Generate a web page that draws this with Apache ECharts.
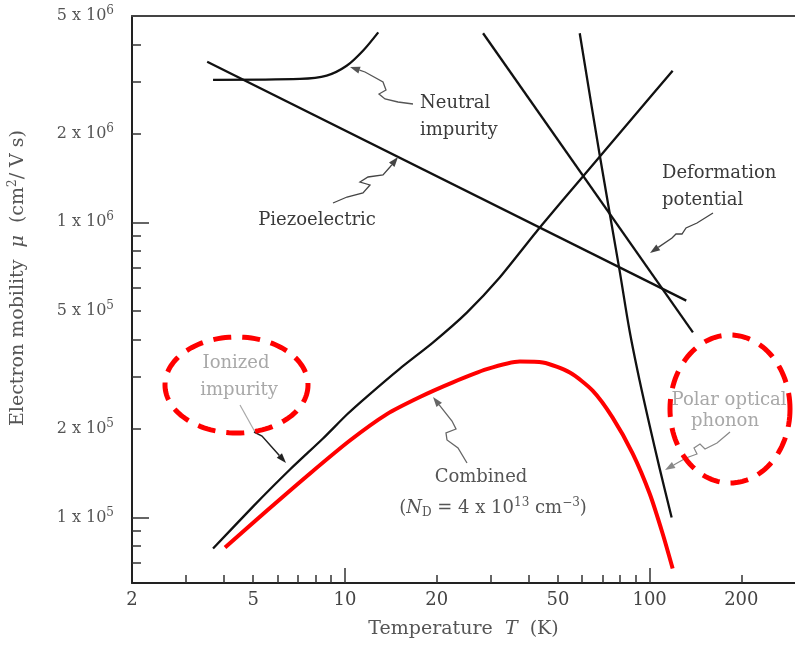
<!DOCTYPE html>
<html><head><meta charset="utf-8">
<script src="https://cdn.jsdelivr.net/npm/echarts@6/dist/echarts.min.js"></script>
<style>html,body{margin:0;padding:0;background:#fff}#c{width:795px;height:646px}</style>
</head><body><div id="c"></div>
<script>
// ---- data (T in K, mobility in cm^2/V s) ----
const neutralT = [3.69, 7.12, 8.71, 10.13, 11.48, 12.86];
const neutralMu = [3.04e6, 3.06e6, 3.14e6, 3.39e6, 3.82e6, 4.40e6];
const piezoT = [3.53, 131.9];
const piezoMu = [3.50e6, 5.43e5];
const deformT = [28.4, 138.7];
const deformMu = [4.37e6, 4.24e5];
const polarT = [58.96, 68.5, 79.7, 85.9, 92.7, 100, 107.8, 118.1];
const polarMu = [4.37e6, 1.70e6, 6.86e5, 4.30e5, 2.91e5, 2.05e5, 1.47e5, 1.00e5];
const ionizedT = [3.69, 4.99, 6.60, 8.47, 10.15, 11.81, 15.15, 19.43, 25.12, 32.2, 43.6, 60.3, 88.0, 119.0];
const ionizedMu = [7.85e4, 1.089e5, 1.454e5, 1.852e5, 2.233e5, 2.569e5, 3.196e5, 3.914e5, 4.945e5, 6.50e5, 9.6e5, 1.428e6, 2.26e6, 3.264e6];
const combinedT = [4.04, 5.55, 7.68, 10.38, 13.73, 17.62, 22.6, 29.2, 37.5, 44.6, 54.7, 65.0, 75.6, 88.0, 100, 110.3, 119.0];
const combinedMu = [7.91e4, 1.056e5, 1.41e5, 1.823e5, 2.24e5, 2.56e5, 2.87e5, 3.18e5, 3.376e5, 3.35e5, 3.097e5, 2.69e5, 2.18e5, 1.647e5, 1.206e5, 8.83e4, 6.72e4];

// ---- axes ----
const xMin = 2, xMax = 300, yMin = 6e4, yMax = 5e6;
const xTickLabels = [2, 5, 10, 20, 50, 100, 200];
const xMinorTicks = [3, 4, 5, 6, 7, 8, 9, 20, 30, 40, 50, 60, 70, 80, 90, 200];
const xMajorTicks = [10, 100];
const yTickLabels = [1e5, 2e5, 5e5, 1e6, 2e6, 5e6];
const yMinorTicks = [7e4, 8e4, 9e4, 2e5, 3e5, 4e5, 5e5, 6e5, 7e5, 8e5, 9e5, 2e6, 3e6, 4e6];
const yMajorTicks = [1e5, 1e6];

const FONT = '"DejaVu Serif", "Liberation Serif", serif';
const lg = Math.log10;
const zip = (a, b) => a.map((t, i) => [t, b[i]]);

function arrowEls(pts, color, w) {
  const n = pts.length, p = pts[n - 1], q = pts[n - 2];
  const dx = p[0] - q[0], dy = p[1] - q[1], L = Math.hypot(dx, dy);
  const ux = dx / L, uy = dy / L, hl = 10, hw = 3.5;
  const bx = p[0] - ux * hl, by = p[1] - uy * hl;
  return [
    {type: 'polyline', z: 50, shape: {points: pts.slice(0, n - 1).concat([[bx, by]])}, style: {stroke: color, lineWidth: w, fill: null}},
    {type: 'polygon', z: 50, shape: {points: [p, [bx - uy * hw, by + ux * hw], [bx + uy * hw, by - ux * hw]]}, style: {fill: color}}
  ];
}
function ellipse(cx, cy, rx, ry) {
  const pts = [];
  for (let i = 0; i <= 120; i++) { const a = i / 120 * 2 * Math.PI; pts.push([cx + rx * Math.cos(a), cy + ry * Math.sin(a)]); }
  return {type: 'polyline', z: 60, shape: {points: pts}, style: {stroke: '#ff0000', lineWidth: 5, lineDash: [18, 11], fill: null}};
}
function txt(text, x, y, color, align) {
  return {type: 'text', z: 55, x: x, y: y, style: {text: text, fontSize: 18, fontFamily: FONT, fill: color,
    align: align, textAlign: align, verticalAlign: 'middle', textVerticalAlign: 'middle'}};
}

const dark = '#3a3a3a', mid = '#555', light = '#a8a8a8';
let graphics = [
  txt('Neutral', 420, 103, dark, 'left'), txt('impurity', 420, 130, dark, 'left'),
  txt('Piezoelectric', 317, 220, dark, 'center'),
  txt('Deformation', 662, 173, dark, 'left'), txt('potential', 662, 200, dark, 'left'),
  txt('Ionized', 236, 363, light, 'center'), txt('impurity', 239, 390, light, 'center'),
  txt('Polar optical', 729, 400, light, 'center'), txt('phonon', 725, 421, light, 'center'),
  txt('Combined', 481, 477, mid, 'center'),
  {type: 'text', z: 55, x: 493, y: 508, style: {
    text: '{a|(}{i|N}{sb|D}{a| = 4 x 10}{sp|13}{a| cm}{sp|−3}{a|)}',
    fill: mid, align: 'center', textAlign: 'center', verticalAlign: 'middle', textVerticalAlign: 'middle',
    rich: {
      a: {fontSize: 18, fontFamily: FONT, fill: mid},
      i: {fontSize: 18, fontFamily: FONT, fontStyle: 'italic', fill: mid},
      sb: {fontSize: 12, fontFamily: FONT, fill: mid, padding: [10, 0, 0, 0]},
      sp: {fontSize: 12, fontFamily: FONT, fill: mid, padding: [0, 0, 10, 0]}
    }}},
  // y-axis title
  {type: 'text', z: 55, x: 18, y: 278, rotation: Math.PI / 2, style: {
    text: '{a|Electron mobility  }{i|μ}{a|  (cm}{s|2}{a|/ V s)}',
    fill: mid, align: 'center', textAlign: 'center', verticalAlign: 'middle', textVerticalAlign: 'middle',
    rich: {
      a: {fontSize: 19, fontFamily: FONT, fill: mid},
      i: {fontSize: 19, fontFamily: FONT, fontStyle: 'italic', fill: mid},
      s: {fontSize: 12, fontFamily: FONT, fill: mid, padding: [0, 0, 10, 0]}
    }}},
  {type: 'polyline', z: 50, shape: {points: [[240, 405], [255, 432]]}, style: {stroke: light, lineWidth: 1.2, fill: null}},
  ellipse(236.5, 385, 71.5, 48), ellipse(730, 409, 60, 74)
];
graphics = graphics.concat(
  arrowEls([[413,104],[398,102],[385,99],[379,94],[386,90],[383,82],[365,72],[350,67]], '#555', 1.3),
  arrowEls([[333,203],[347,197],[363,193],[370,185],[360,182],[368,177],[383,175],[390,167],[398,157]], '#444', 1.3),
  arrowEls([[713,213],[697,223],[686,228],[682,234],[676,234],[672,238],[650,253]], '#444', 1.3),
  arrowEls([[254,432],[262,436],[286,463]], '#222', 1.5),
  arrowEls([[730,432],[717,443],[705,449],[700,444],[694,448],[697,454],[686,458],[665,470]], '#888', 1.2),
  arrowEls([[467,463],[458,448],[447,440],[446,433],[456,429],[452,421],[433,397]], '#666', 1.3)
);

const chart = echarts.init(document.getElementById('c'));
const tickStyle = {color: '#333', width: 1.5};
const lineS = (name, T, M, opts) => Object.assign({
  name: name, type: 'line', xAxisIndex: 0, yAxisIndex: 0, data: zip(T, M), symbol: 'none',
  lineStyle: {color: '#111', width: 2.3}, z: 10, silent: true
}, opts || {});

chart.setOption({
  animation: false,
  backgroundColor: '#fff',
  grid: {left: 132, right: 0, top: 16, bottom: 63, containLabel: false},
  xAxis: [
    {type: 'log', logBase: 10, min: xMin, max: xMax, position: 'bottom',
     axisLine: {show: true, lineStyle: {color: '#222', width: 2}}, axisTick: {show: false}, axisLabel: {show: false}, splitLine: {show: false},
     name: '{a|Temperature  }{i|T}{a|  (K)}', nameLocation: 'middle', nameGap: 37,
     nameTextStyle: {rich: {a: {fontSize: 19, fontFamily: FONT, color: '#555'}, i: {fontSize: 19, fontFamily: FONT, fontStyle: 'italic', color: '#555'}}}},
    {type: 'value', min: lg(xMin), max: lg(xMax), position: 'bottom', axisLine: {show: false}, splitLine: {show: false},
     axisTick: {show: true, inside: true, length: 8, lineStyle: tickStyle, customValues: xMinorTicks.map(lg)},
     axisLabel: {show: true, margin: 8, fontSize: 18, fontFamily: FONT, color: '#444', customValues: xTickLabels.map(lg),
       formatter: v => String(Math.round(Math.pow(10, v)))}},
    {type: 'value', min: lg(xMin), max: lg(xMax), position: 'bottom', axisLine: {show: false}, splitLine: {show: false},
     axisTick: {show: true, inside: true, length: 15, lineStyle: tickStyle, customValues: xMajorTicks.map(lg)}, axisLabel: {show: false}},
    {type: 'value', min: lg(xMin), max: lg(xMax), position: 'top', axisLine: {show: true, lineStyle: {color: '#444', width: 2}},
     axisTick: {show: false}, axisLabel: {show: false}, splitLine: {show: false}}
  ],
  yAxis: [
    {type: 'log', logBase: 10, min: yMin, max: yMax, position: 'left',
     axisLine: {show: true, lineStyle: {color: '#222', width: 2}}, axisTick: {show: false}, axisLabel: {show: false}, splitLine: {show: false}},
    {type: 'value', min: lg(yMin), max: lg(yMax), position: 'left', axisLine: {show: false}, splitLine: {show: false},
     axisTick: {show: true, inside: true, length: 9, lineStyle: tickStyle, customValues: yMinorTicks.map(lg)},
     axisLabel: {show: true, margin: 18, customValues: yTickLabels.map(lg),
       formatter: v => { const e = Math.floor(v + 1e-9); const m = Math.round(Math.pow(10, v - e)); return '{b|' + m + ' x 10}{s|' + e + '}'; },
       rich: {b: {fontSize: 16, fontFamily: FONT, color: '#555'}, s: {fontSize: 12, fontFamily: FONT, color: '#555', padding: [0, 0, 10, 0]}}}},
    {type: 'value', min: lg(yMin), max: lg(yMax), position: 'left', axisLine: {show: false}, splitLine: {show: false},
     axisTick: {show: true, inside: true, length: 17, lineStyle: tickStyle, customValues: yMajorTicks.map(lg)}, axisLabel: {show: false}}
  ],
  series: [
    lineS('Neutral impurity', neutralT, neutralMu, {smooth: 0.3}),
    lineS('Piezoelectric', piezoT, piezoMu),
    lineS('Deformation potential', deformT, deformMu),
    lineS('Polar optical phonon', polarT, polarMu, {smooth: 0.35}),
    lineS('Ionized impurity', ionizedT, ionizedMu, {smooth: 0.2}),
    lineS('Combined', combinedT, combinedMu, {smooth: 0.25, lineStyle: {color: '#ff0000', width: 4}, z: 12})
  ],
  graphic: graphics
});
</script></body></html>
